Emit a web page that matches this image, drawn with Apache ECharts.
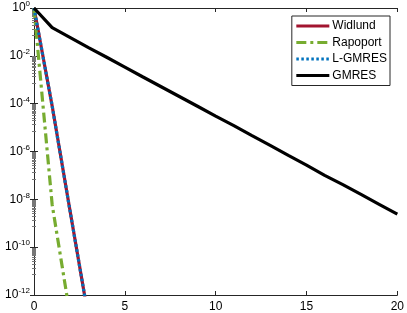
<!DOCTYPE html>
<html>
<head>
<meta charset="utf-8">
<script src="https://cdn.jsdelivr.net/npm/echarts@6/dist/echarts.min.js"></script>
<style>html,body{margin:0;padding:0;background:#fff}#c{width:407px;height:313px}</style>
</head>
<body>
<div id="c"></div>
<script>
var iterations = [0,1,2,3,4,5,6,7,8,9,10,11,12,13,14,15,16,17,18,19,20];
var widlund = [1, 8e-5, 2.8e-9, 1.1e-13];
var rapoport = [1, 6e-9, 1.2e-13];
var lgmres = [1, 8e-5, 2.8e-9, 1.1e-13];
var gmres = [1, 1.5e-1, 5.8e-2, 2.2e-2, 8.7e-3, 3.4e-3, 1.3e-3, 5.1e-4, 2.0e-4, 7.8e-5, 3.0e-5, 1.2e-5, 4.6e-6, 1.8e-6, 6.9e-7, 2.7e-7, 1.0e-7, 4.1e-8, 1.6e-8, 6.2e-9, 2.4e-9];
var xTicks = [0,5,10,15,20];
var names = ['Widlund','Rapoport','L-GMRES','GMRES'];

function pairs(vals){ return vals.map(function(v,i){ return [iterations[i], v]; }); }

var axisColor = '#262626';
var font = 'Liberation Sans, Arial, Helvetica, sans-serif';
var chart = echarts.init(document.getElementById('c'), null, {renderer:'canvas'});
chart.setOption({
  animation:false,
  backgroundColor:'#fff',
  textStyle:{fontFamily:font},
  grid:{left:34, right:7, top:8, bottom:18, containLabel:false},
  legend:{
    data:names, orient:'vertical', right:17, top:16,
    backgroundColor:'#fff', borderColor:axisColor, borderWidth:1,
    padding:[4,3,4,3], itemGap:4.5, itemWidth:33, itemHeight:12,
    itemStyle:{opacity:0},
    lineStyle:{width:3},
    textStyle:{fontFamily:font, fontSize:12, color:'#000', padding:[0,0,0,-2]}
  },
  xAxis:[{
    type:'value', min:0, max:20, interval:5, position:'bottom',
    axisLine:{show:true, lineStyle:{color:axisColor, width:1}},
    axisTick:{show:true, inside:true, length:4, lineStyle:{color:axisColor}},
    axisLabel:{fontSize:12, color:'#000', margin:6, fontFamily:font},
    splitLine:{show:false}
  },{
    type:'value', min:0, max:20, interval:5, position:'top',
    axisLine:{show:true, lineStyle:{color:axisColor, width:1}},
    axisTick:{show:true, inside:true, length:4, lineStyle:{color:axisColor}},
    axisLabel:{show:false}, splitLine:{show:false}
  }],
  yAxis:[{
    type:'log', logBase:10, min:1e-12, max:1, interval:2, position:'left',
    axisLine:{show:true, lineStyle:{color:axisColor, width:1}},
    axisTick:{show:true, inside:true, length:4, lineStyle:{color:axisColor}},
    minorTick:{show:true, splitNumber:16, length:2, lineStyle:{color:'#777'}},
    axisLabel:{margin:4, color:'#000', fontFamily:font,
      formatter:function(v){ var e=Math.round(Math.log10(v)); return '{b|10}{e|'+e+'}'; },
      rich:{b:{fontSize:12, color:'#000', fontFamily:font}, e:{fontSize:8, color:'#000', fontFamily:font, padding:[0,0,8,0]}}
    },
    splitLine:{show:false}
  },{
    type:'log', logBase:10, min:1e-12, max:1, interval:2, position:'right',
    axisLine:{show:true, lineStyle:{color:axisColor, width:1}},
    axisTick:{show:true, inside:true, length:4, lineStyle:{color:axisColor}},
    minorTick:{show:true, splitNumber:16, length:2, lineStyle:{color:'#777'}},
    axisLabel:{show:false}, splitLine:{show:false}
  }],
  series:[
    {name:'Widlund', type:'line', data:pairs(widlund), showSymbol:false, symbol:'none', clip:true,
     lineStyle:{color:'#A2142F', width:3.2, type:'solid'}, itemStyle:{color:'#A2142F'}, z:2},
    {name:'Rapoport', type:'line', data:pairs(rapoport), showSymbol:false, symbol:'none', clip:true,
     lineStyle:{color:'#77AC30', width:3.2, type:[10,4,3,4]}, itemStyle:{color:'#77AC30'}, z:3},
    {name:'L-GMRES', type:'line', data:pairs(lgmres), showSymbol:false, symbol:'none', clip:true,
     lineStyle:{color:'#0072BD', width:3.2, type:[2.5,2.5]}, itemStyle:{color:'#0072BD'}, z:4},
    {name:'GMRES', type:'line', data:pairs(gmres), showSymbol:false, symbol:'none', clip:true,
     lineStyle:{color:'#000000', width:3.2, type:'solid'}, itemStyle:{color:'#000'}, z:5}
  ]
});
</script>
</body>
</html>
